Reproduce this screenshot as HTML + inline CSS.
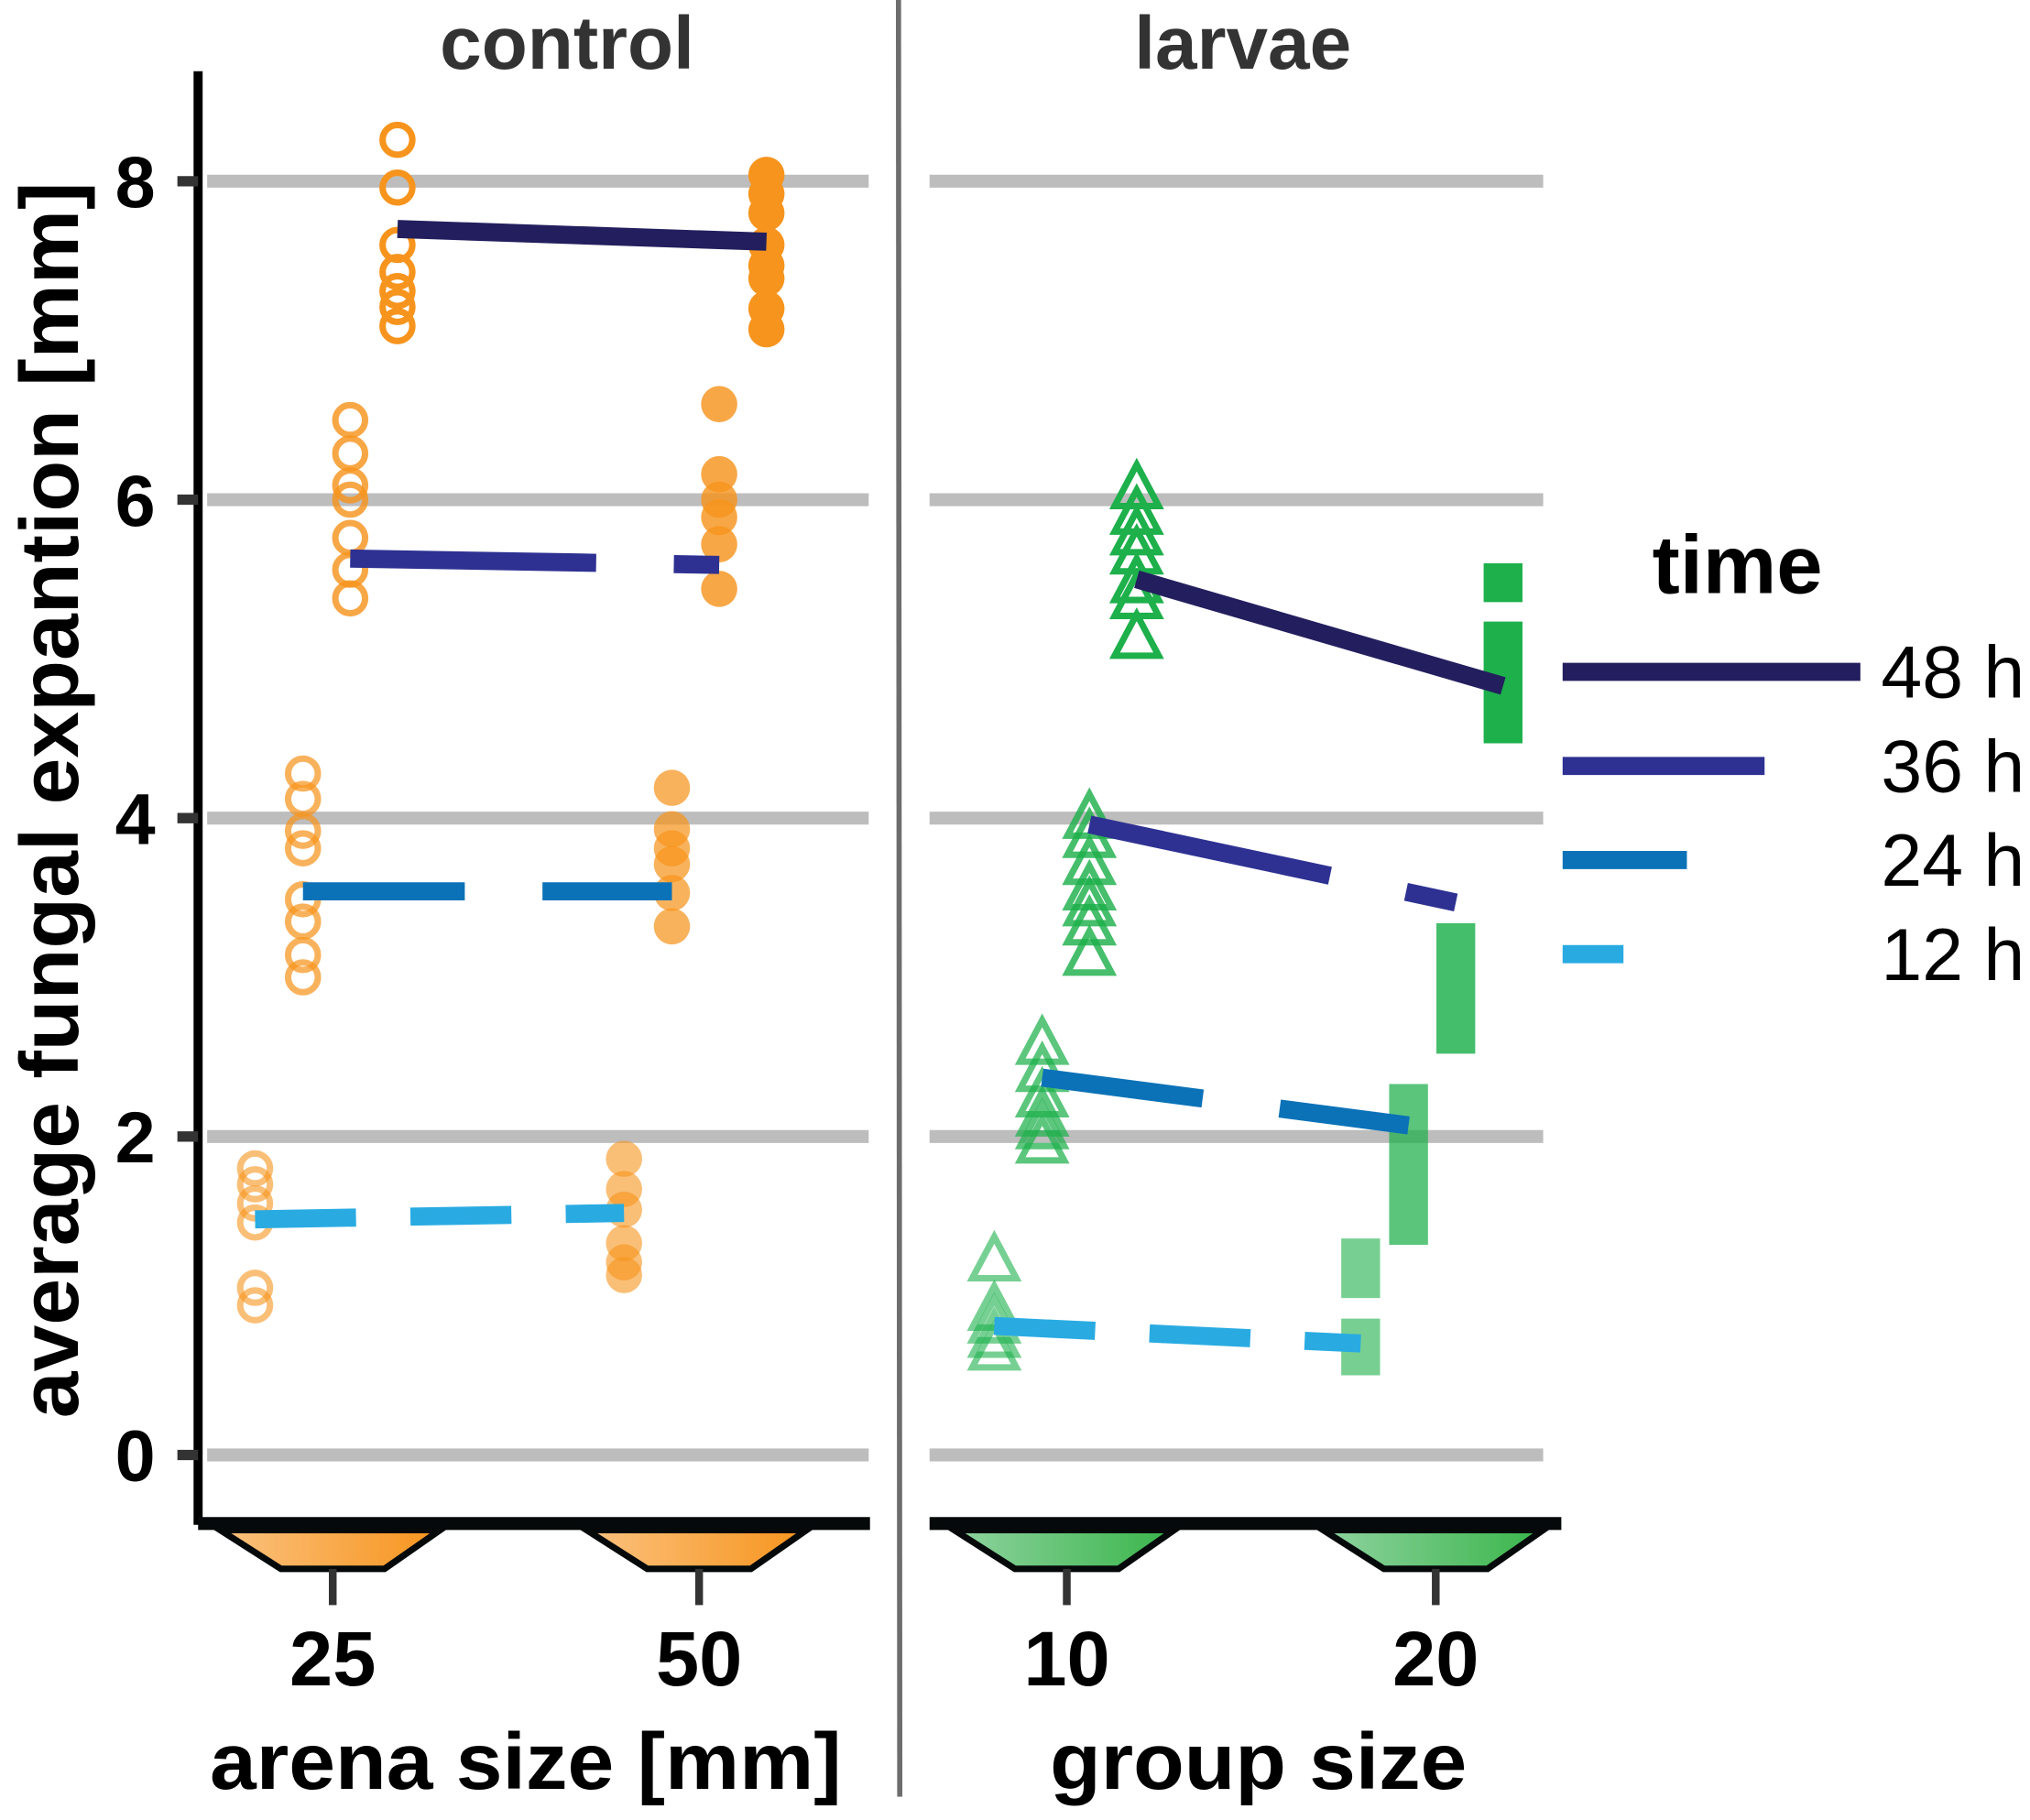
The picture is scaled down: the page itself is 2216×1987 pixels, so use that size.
<!DOCTYPE html>
<html><head><meta charset="utf-8"><style>
html,body{margin:0;padding:0;background:#fff}
svg{display:block}
text{font-family:"Liberation Sans",sans-serif}
</style></head><body>
<svg id="chart" width="2216" height="1987" viewBox="0 0 1568 1406" xmlns="http://www.w3.org/2000/svg">
<defs>
<linearGradient id="gO" x1="0" x2="1" y1="0" y2="0"><stop offset="0" stop-color="#fbc27f"/><stop offset="1" stop-color="#f7941d"/></linearGradient>
<linearGradient id="gG" x1="0" x2="1" y1="0" y2="0"><stop offset="0" stop-color="#8fd3a0"/><stop offset="1" stop-color="#39b54a"/></linearGradient>
</defs>
<g id="grid"></g>
<line x1="694" y1="0" x2="695" y2="1388" stroke="#6d6d6d" stroke-width="4"/>
<text x="438" y="53" text-anchor="middle" font-size="58" font-weight="bold" fill="#333">control</text>
<text x="960" y="53" text-anchor="middle" font-size="58" font-weight="bold" fill="#333">larvae</text>
<line x1="153" y1="55" x2="153" y2="1178" stroke="#000" stroke-width="7"/>
<g id="yticks"></g>
<text transform="translate(60,618) rotate(-90)" text-anchor="middle" font-size="64" font-weight="bold" fill="#000" textLength="955" lengthAdjust="spacingAndGlyphs">average fungal expantion [mm]</text>
<g id="marks"></g>
<g id="xaxis">
<line x1="153" y1="1177" x2="672" y2="1177" stroke="#05090a" stroke-width="10"/>
<line x1="718" y1="1177" x2="1206" y2="1177" stroke="#05090a" stroke-width="10"/>
</g>
<text x="406" y="1382" text-anchor="middle" font-size="62" font-weight="bold" fill="#000" textLength="488" lengthAdjust="spacingAndGlyphs">arena size [mm]</text>
<text x="972" y="1382" text-anchor="middle" font-size="62" font-weight="bold" fill="#000" textLength="322" lengthAdjust="spacingAndGlyphs">group size</text>
<g id="legend">
<text x="1342" y="458" text-anchor="middle" font-size="64" font-weight="bold" fill="#000">time</text>
</g>
</svg>
<script>
const NS="http://www.w3.org/2000/svg";
// ---- data ----
const yTicks=[0,2,4,6,8];
const timeLabels=["48 h","36 h","24 h","12 h"];
const ctrl25=[[8.26,7.96,7.6,7.43,7.31,7.21,7.09],[6.5,6.29,6.09,6.0,5.76,5.56,5.38],[4.28,4.12,3.92,3.81,3.49,3.35,3.14,3.0],[1.8,1.7,1.58,1.46,1.05,0.94]];
const ctrl50=[[8.04,7.92,7.8,7.6,7.47,7.39,7.2,7.07],[6.6,6.16,6.0,5.89,5.72,5.44],[4.19,3.93,3.81,3.71,3.53,3.32],[1.86,1.67,1.54,1.33,1.21,1.13]];
const larv10=[[6.09,5.93,5.8,5.68,5.5,5.4,5.15],[4.02,3.9,3.73,3.57,3.47,3.35,3.16],[2.6,2.43,2.27,2.15,2.07,1.98],[1.24,0.93,0.85,0.76,0.68]];
const larv20Min=[4.47,2.52,1.32,0.5];
const larv20Max=[5.6,3.34,2.33,1.36];
const ctrlMeanStart=[7.7,5.63,3.54,1.48];
const ctrlMeanEnd=[7.62,5.59,3.54,1.52];
const larvMeanStart=[5.5,3.96,2.37,0.81];
const larvMeanEnd=[4.83,3.47,2.07,0.7];
// ---- scales / styles ----
const yS=v=>1124-123*v;
const lineCol=["#231f5e","#2e3192","#0b72b8","#29abe2"];
const dash=["none","190 60","125 60","78 42"];
const rangeDash=["30 15 400","none","none","46 16"];
const ptAlpha=[1,0.82,0.72,0.6];
const offs=[0,-36.5,-73,-110];
const cx={c25:307,c50:592,l10:878,l20:1161};
const legLen=[230,156,96,47];
const svg=document.getElementById('chart');
function mk(tag,attrs,parent){const e=document.createElementNS(NS,tag);for(const k in attrs)e.setAttribute(k,attrs[k]);parent.appendChild(e);return e;}
const grid=document.getElementById('grid'),yt=document.getElementById('yticks'),marks=document.getElementById('marks'),xa=document.getElementById('xaxis'),leg=document.getElementById('legend');
yTicks.forEach(v=>{
 let g=mk('line',{x1:160,x2:671,y1:yS(v),y2:yS(v),stroke:'#bdbdbd','stroke-width':10},grid);
 
 
 g=mk('line',{x1:718,x2:1192,y1:yS(v),y2:yS(v),stroke:'#bdbdbd','stroke-width':10},grid);
 
 
 let t=mk('line',{x1:137,x2:153,y1:yS(v),y2:yS(v),stroke:'#333','stroke-width':8},yt);
 
 
 let l=mk('text',{x:120,y:yS(v)+20,'text-anchor':'end','font-size':56,'font-weight':'bold',fill:'#000'},yt);
 l.textContent=v;
 
 
});
for(let i=0;i<4;i++){
 ctrl25[i].forEach(v=>{const c=mk('circle',{cx:cx.c25+offs[i],cy:yS(v),r:11.5,fill:'none',stroke:'#f7941d','stroke-width':5,opacity:ptAlpha[i]},marks);
  
  });
 ctrl50[i].forEach(v=>{const c=mk('circle',{cx:cx.c50+offs[i],cy:yS(v),r:14,fill:'#f7941d',opacity:ptAlpha[i]},marks);
  
  });
 larv10[i].forEach(v=>{const x=cx.l10+offs[i],y=yS(v);
  const p=mk('polygon',{points:`${x},${y-16} ${x-17},${y+16} ${x+17},${y+16}`,fill:'none',stroke:'#1db04b','stroke-width':5,opacity:ptAlpha[i]},marks);
  
  });
 const x20=cx.l20+offs[i];
 const r=mk('line',{x1:x20,x2:x20,y1:yS(larv20Max[i]),y2:yS(larv20Min[i]),stroke:'#1db04b','stroke-width':30,opacity:ptAlpha[i],'stroke-dasharray':rangeDash[i]},marks);
 
 
}
for(let i=3;i>=0;i--){
 let m=mk('line',{x1:cx.c25+offs[i],x2:cx.c50+offs[i],y1:yS(ctrlMeanStart[i]),y2:yS(ctrlMeanEnd[i]),stroke:lineCol[i],'stroke-width':14,'stroke-dasharray':dash[i]},marks);
 
 
 m=mk('line',{x1:cx.l10+offs[i],x2:cx.l20+offs[i],y1:yS(larvMeanStart[i]),y2:yS(larvMeanEnd[i]),stroke:lineCol[i],'stroke-width':14,'stroke-dasharray':dash[i]},marks);
 
 
}
// x categories
const xCats=[["25",257,'url(#gO)'],["50",540,'url(#gO)'],["10",824,'url(#gG)'],["20",1109,'url(#gG)']];
xCats.forEach(([lab,x,f])=>{
 const p=mk('polygon',{points:`${x-87},1182 ${x+83},1182 ${x+40},1212 ${x-40},1212`,fill:f,stroke:'#05090a','stroke-width':5},xa);
 
 
 const t=mk('line',{x1:x,x2:x,y1:1212,y2:1240,stroke:'#333','stroke-width':6},xa);
 
 
 const l=mk('text',{x:x,y:1302,'text-anchor':'middle','font-size':60,'font-weight':'bold',fill:'#000'},xa);
 l.textContent=lab;
 
 
});
for(let i=0;i<4;i++){
 const y=519+i*72.7;
 const l=mk('line',{x1:1207,x2:1207+legLen[i],y1:y,y2:y,stroke:lineCol[i],'stroke-width':14},leg);
 
 
 const t=mk('text',{x:1453,y:y+20,'font-size':57,fill:'#000'},leg);
 t.textContent=timeLabels[i];
 
 
}
</script>
</body></html>
